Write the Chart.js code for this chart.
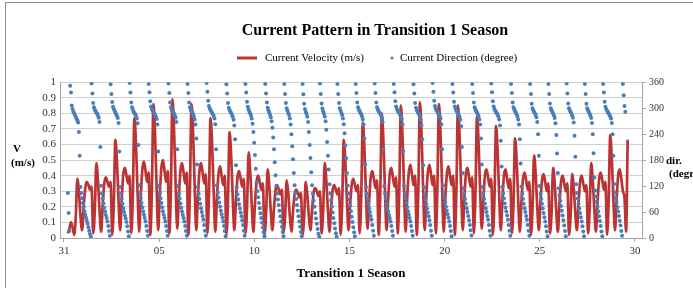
<!DOCTYPE html>
<html>
<head>
<meta charset="utf-8">
<script src="https://cdn.jsdelivr.net/npm/chart.js@4.4.1/dist/chart.umd.min.js"></script>
<style>
  html, body { margin: 0; padding: 0; background: #fff; overflow: hidden; }
  canvas { display: block; }
</style>
</head>
<body>
<canvas id="currentChart" width="750" height="288"></canvas>
<script>
// x axis: days since 31 March, tick labels are day-of-month
var dayTicks = [0, 5, 10, 15, 20, 25, 30];
var dayLabels = ['31', '05', '10', '15', '20', '25', '30'];
var velTicks = [0, 0.1, 0.2, 0.3, 0.4, 0.5, 0.6, 0.7, 0.8, 0.9, 1];
var dirTicks = [0, 60, 120, 180, 240, 300, 360];

// current velocity (m/s), one value every 2 hours from day 0.2
var velStart = 0.2;
var velStep = 1 / 12;
var velocity = [
    0.03, 0.06, 0.10, 0.07, 0.02, 0.13,
    0.38, 0.30, 0.14, 0.05, 0.20, 0.32, 0.36, 0.34, 0.31, 0.33, 0.03, 0.17,
    0.48, 0.37, 0.18, 0.04, 0.21, 0.35, 0.39, 0.36, 0.33, 0.36, 0.02, 0.22,
    0.63, 0.49, 0.24, 0.05, 0.25, 0.41, 0.45, 0.40, 0.35, 0.40, 0.03, 0.27,
    0.77, 0.60, 0.29, 0.04, 0.27, 0.44, 0.49, 0.43, 0.36, 0.42, 0.02, 0.30,
    0.86, 0.67, 0.33, 0.05, 0.28, 0.45, 0.50, 0.43, 0.36, 0.43, 0.03, 0.31,
    0.89, 0.69, 0.34, 0.06, 0.26, 0.43, 0.48, 0.42, 0.35, 0.42, 0.02, 0.30,
    0.86, 0.67, 0.33, 0.05, 0.26, 0.43, 0.48, 0.42, 0.35, 0.41, 0.03, 0.27,
    0.77, 0.60, 0.29, 0.04, 0.25, 0.41, 0.46, 0.40, 0.34, 0.40, 0.02, 0.24,
    0.68, 0.53, 0.26, 0.05, 0.24, 0.39, 0.43, 0.38, 0.33, 0.38, 0.03, 0.19,
    0.55, 0.43, 0.21, 0.04, 0.22, 0.36, 0.40, 0.36, 0.31, 0.35, 0.02, 0.15,
    0.44, 0.34, 0.17, 0.05, 0.19, 0.31, 0.34, 0.31, 0.28, 0.31, 0.03, 0.13,
    0.37, 0.29, 0.14, 0.04, 0.17, 0.28, 0.31, 0.29, 0.26, 0.29, 0.02, 0.13,
    0.36, 0.28, 0.14, 0.05, 0.18, 0.29, 0.32, 0.30, 0.27, 0.30, 0.03, 0.17,
    0.48, 0.37, 0.18, 0.04, 0.19, 0.31, 0.34, 0.31, 0.28, 0.32, 0.02, 0.22,
    0.63, 0.49, 0.24, 0.05, 0.21, 0.34, 0.38, 0.34, 0.30, 0.34, 0.03, 0.26,
    0.74, 0.58, 0.28, 0.06, 0.24, 0.39, 0.43, 0.38, 0.32, 0.37, 0.02, 0.28,
    0.80, 0.62, 0.30, 0.05, 0.25, 0.41, 0.45, 0.39, 0.33, 0.39, 0.03, 0.30,
    0.85, 0.66, 0.32, 0.04, 0.26, 0.42, 0.47, 0.41, 0.34, 0.40, 0.02, 0.30,
    0.87, 0.68, 0.33, 0.05, 0.26, 0.42, 0.47, 0.41, 0.34, 0.40, 0.03, 0.30,
    0.86, 0.67, 0.33, 0.04, 0.25, 0.41, 0.46, 0.40, 0.34, 0.40, 0.02, 0.30,
    0.85, 0.66, 0.32, 0.05, 0.25, 0.41, 0.45, 0.39, 0.33, 0.39, 0.03, 0.27,
    0.78, 0.61, 0.30, 0.06, 0.24, 0.40, 0.44, 0.39, 0.33, 0.38, 0.02, 0.25,
    0.72, 0.56, 0.27, 0.05, 0.24, 0.40, 0.44, 0.38, 0.32, 0.38, 0.03, 0.22,
    0.64, 0.50, 0.24, 0.04, 0.23, 0.38, 0.42, 0.37, 0.31, 0.36, 0.02, 0.19,
    0.53, 0.41, 0.20, 0.05, 0.23, 0.37, 0.41, 0.36, 0.30, 0.35, 0.03, 0.16,
    0.45, 0.35, 0.17, 0.04, 0.22, 0.36, 0.40, 0.35, 0.30, 0.35, 0.02, 0.14,
    0.41, 0.32, 0.16, 0.05, 0.22, 0.36, 0.40, 0.35, 0.30, 0.34, 0.03, 0.17,
    0.48, 0.37, 0.18, 0.04, 0.23, 0.38, 0.42, 0.37, 0.31, 0.36, 0.02, 0.23,
    0.66, 0.51, 0.25, 0.05, 0.24, 0.40, 0.44, 0.38, 0.30, 0.26, 0.04, 0.63
];

// current direction (degree), one value every hour from day 0.2
var dirStart = 0.2;
var dirStep = 1 / 24;
var direction = [
    104, 58, 16,
    352, 336, 306, 298, 292, 288, 284, 280, 276, 272, 267, 245, 190, 118, 104, 92, 81, 71, 62, 54, 47, 40, 33, 25, 17, 9, 3,
    357, 334, 312, 302, 297, 293, 290, 287, 283, 278, 268, 210, 121, 103, 91, 80, 70, 61, 53, 46, 38, 28, 16, 5,
    355, 333, 314, 303, 298, 294, 290, 286, 282, 277, 266, 200, 118, 102, 90, 79, 69, 60, 52, 45, 37, 27, 15, 4,
    358, 336, 313, 302, 297, 292, 289, 286, 282, 276, 265, 215, 122, 104, 92, 81, 71, 62, 54, 46, 38, 28, 16, 5,
    356, 337, 316, 304, 298, 294, 291, 288, 285, 281, 275, 262, 200, 120, 104, 92, 81, 71, 62, 54, 46, 38, 28, 16, 5,
    357, 335, 313, 302, 297, 293, 290, 287, 283, 278, 268, 205, 120, 103, 91, 80, 70, 61, 53, 46, 38, 28, 16, 5,
    356, 335, 313, 302, 297, 293, 290, 286, 281, 274, 262, 230, 170, 118, 102, 90, 79, 69, 60, 51, 42, 30, 17, 5,
    358, 338, 317, 305, 299, 295, 292, 289, 286, 282, 276, 263, 205, 122, 105, 93, 82, 72, 63, 55, 47, 38, 28, 16, 4,
    355, 334, 312, 301, 296, 292, 289, 285, 280, 273, 260, 228, 168, 117, 101, 89, 78, 68, 59, 50, 41, 30, 17, 5,
    356, 336, 315, 303, 297, 292, 288, 283, 276, 264, 245, 220, 192, 160, 128, 108, 94, 81, 69, 57, 46, 35, 24, 13, 4,
    356, 334, 313, 301, 295, 290, 285, 279, 270, 255, 232, 205, 175, 145, 120, 103, 89, 76, 63, 50, 38, 26, 14, 4,
    356, 333, 312, 300, 294, 289, 284, 276, 262, 240, 212, 182, 150, 122, 104, 90, 76, 63, 50, 38, 26, 14, 4,
    356, 332, 310, 298, 292, 287, 280, 268, 245, 215, 185, 152, 122, 102, 86, 72, 58, 45, 33, 21, 10, 3,
    357, 333, 311, 299, 293, 287, 281, 270, 250, 222, 190, 158, 124, 103, 87, 73, 59, 46, 34, 22, 11, 3,
    356, 333, 312, 300, 294, 289, 284, 276, 263, 242, 214, 184, 150, 121, 103, 89, 75, 62, 49, 37, 25, 13, 4,
    356, 335, 313, 302, 297, 293, 290, 286, 281, 274, 262, 230, 170, 118, 102, 90, 79, 69, 60, 51, 42, 30, 17, 5,
    357, 335, 313, 302, 297, 293, 290, 287, 283, 278, 268, 205, 120, 103, 91, 80, 70, 61, 53, 46, 38, 28, 16, 5,
    356, 337, 316, 304, 298, 294, 291, 288, 285, 281, 275, 262, 200, 120, 104, 92, 81, 71, 62, 54, 46, 38, 28, 16, 5,
    355, 334, 312, 301, 296, 292, 289, 285, 280, 273, 260, 228, 168, 117, 101, 89, 78, 68, 59, 50, 41, 30, 17, 5,
    358, 338, 317, 305, 299, 295, 292, 289, 286, 282, 276, 263, 205, 122, 105, 93, 82, 72, 63, 55, 47, 38, 28, 16, 4,
    356, 336, 315, 304, 298, 294, 291, 288, 284, 280, 273, 258, 210, 150, 115, 102, 90, 79, 69, 60, 51, 41, 30, 18, 6,
    356, 335, 313, 302, 297, 293, 290, 286, 281, 274, 262, 230, 170, 118, 102, 90, 79, 69, 60, 51, 42, 30, 17, 5,
    357, 337, 316, 304, 298, 294, 291, 288, 285, 281, 274, 260, 225, 165, 118, 103, 91, 80, 70, 61, 52, 42, 30, 17, 5,
    356, 335, 313, 302, 297, 293, 290, 286, 281, 274, 262, 228, 172, 119, 102, 90, 79, 69, 60, 51, 42, 30, 17, 5,
    356, 333, 310, 300, 295, 291, 288, 284, 279, 268, 240, 190, 120, 102, 90, 79, 68, 58, 48, 38, 27, 15, 4,
    356, 333, 311, 300, 295, 291, 287, 283, 277, 265, 238, 195, 150, 115, 99, 86, 74, 63, 52, 41, 29, 16, 4,
    357, 334, 311, 300, 295, 291, 288, 283, 278, 267, 236, 188, 124, 104, 91, 79, 68, 58, 48, 38, 27, 15, 4,
    356, 333, 310, 300, 295, 291, 287, 283, 277, 266, 240, 196, 140, 110, 96, 84, 72, 61, 50, 39, 28, 15, 4,
    356, 336, 315, 303, 298, 294, 291, 288, 285, 281, 276, 266, 240, 190, 125, 105, 93, 82, 71, 61, 51, 40, 29, 16, 5,
    356, 330, 305, 292
];

var serif = '"Liberation Serif", "Times New Roman", serif';
var redColor = '#bb3333';
var blueColor = '#4a7ebb';
var axisColor = '#a6a6a6';

Chart.defaults.font.family = serif;
Chart.defaults.color = '#333';

var velPoints = velocity.map(function(v, i) {
    return { x: velStart + i * velStep, y: v };
});
var dirPoints = direction.map(function(v, i) {
    return { x: dirStart + i * dirStep, y: v };
});

function fixedTicks(values) {
    return function(scale) {
        scale.ticks = values.map(function(v) { return { value: v }; });
    };
}

// frame, horizontal side titles and the legend
var decorPlugin = {
    id: 'decor',
    beforeDraw: function(chart) {
        var ctx = chart.ctx;
        ctx.save();
        ctx.fillStyle = '#fff';
        ctx.fillRect(0, 0, chart.width, chart.height);
        ctx.strokeStyle = '#8c8c8c';
        ctx.lineWidth = 1;
        ctx.strokeRect(5.5, 2.5, chart.width, chart.height);
        ctx.restore();
    },
    afterDraw: function(chart) {
        var ctx = chart.ctx;
        ctx.save();
        ctx.fillStyle = '#000';
        ctx.textBaseline = 'middle';
        ctx.textAlign = 'left';
        ctx.font = 'bold 11px ' + serif;
        ctx.fillText('V', 13, 149);
        ctx.fillText('(m/s)', 11, 163);
        ctx.fillText('dir.', 666, 161);
        ctx.fillText('(degree)', 669, 174);

        // legend
        ctx.strokeStyle = redColor;
        ctx.lineWidth = 3;
        ctx.beginPath();
        ctx.moveTo(237, 58);
        ctx.lineTo(257, 58);
        ctx.stroke();
        ctx.font = '11px ' + serif;
        ctx.fillStyle = '#000';
        ctx.fillText('Current Velocity (m/s)', 265, 58);
        ctx.fillStyle = blueColor;
        ctx.beginPath();
        ctx.arc(392, 58, 1.5, 0, Math.PI * 2);
        ctx.fill();
        ctx.fillStyle = '#000';
        ctx.fillText('Current Direction (degree)', 400, 58);
        ctx.restore();
    }
};

new Chart(document.getElementById('currentChart'), {
    type: 'line',
    data: {
        datasets: [{
            type: 'scatter',
            label: 'Current Direction (degree)',
            data: dirPoints,
            yAxisID: 'y2',
            showLine: false,
            pointRadius: 2,
            pointBorderWidth: 0,
            pointBackgroundColor: blueColor,
            order: 0
        }, {
            type: 'line',
            label: 'Current Velocity (m/s)',
            data: velPoints,
            yAxisID: 'y',
            borderColor: redColor,
            borderWidth: 2.7,
            pointRadius: 0,
            fill: false,
            cubicInterpolationMode: 'monotone',
            order: 1
        }]
    },
    options: {
        responsive: false,
        animation: false,
        layout: { padding: 0 },
        plugins: {
            legend: { display: false },
            tooltip: { enabled: false },
            title: {
                display: true,
                text: 'Current Pattern in Transition 1 Season',
                color: '#000',
                font: { family: serif, size: 16, weight: 'bold' },
                padding: { top: 21, bottom: 42 }
            }
        },
        scales: {
            x: {
                type: 'linear',
                min: -0.21,
                max: 30.37,
                afterBuildTicks: fixedTicks(dayTicks),
                afterFit: function(scale) { scale.height = 50; },
                ticks: {
                    autoSkip: false,
                    maxRotation: 0,
                    padding: 3,
                    font: { size: 11 },
                    callback: function(value, index) { return dayLabels[index]; }
                },
                grid: { drawOnChartArea: false, tickLength: 4, color: axisColor },
                border: { color: axisColor },
                title: {
                    display: true,
                    text: 'Transition 1 Season',
                    color: '#000',
                    font: { family: serif, size: 13, weight: 'bold' },
                    padding: { top: 4, bottom: 7 }
                }
            },
            y: {
                position: 'left',
                min: 0,
                max: 1,
                afterBuildTicks: fixedTicks(velTicks),
                afterFit: function(scale) { scale.width = 60; },
                ticks: {
                    autoSkip: false,
                    padding: 4,
                    font: { size: 11 },
                    callback: function(value) { return String(Math.round(value * 10) / 10); }
                },
                grid: { color: '#cfcfcf', drawTicks: false },
                border: { color: axisColor }
            },
            y2: {
                position: 'right',
                min: 0,
                max: 360,
                afterBuildTicks: fixedTicks(dirTicks),
                afterFit: function(scale) { scale.width = 108; },
                ticks: { autoSkip: false, padding: 3, font: { size: 10 } },
                grid: { drawOnChartArea: false, tickLength: 4, color: axisColor },
                border: { color: axisColor }
            }
        }
    },
    plugins: [decorPlugin]
});
</script>
</body>
</html>
